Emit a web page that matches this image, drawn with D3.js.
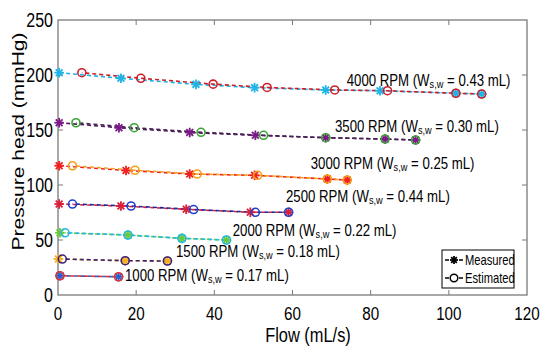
<!DOCTYPE html>
<html><head><meta charset="utf-8">
<script src="https://cdn.jsdelivr.net/npm/d3@7"></script>
<style>body{margin:0;background:#fff}svg{display:block}text{font-family:"Liberation Sans",Arial,sans-serif;fill:#000}</style>
</head><body><div id="chart"></div>
<script>
const rpmLabels = ["4000 RPM","3500 RPM","3000 RPM","2500 RPM","2000 RPM","1500 RPM","1000 RPM"];
const volumes = ["0.43","0.30","0.25","0.44","0.22","0.18","0.17"];
const measFlow = [
  [0.3,16.1,35.3,50.3,68.5,82.4,101.8,108.4],
  [0.3,15.6,33.7,50.5,68.5,83.7,91.5],
  [0.3,17.4,33.7,50.3,68.9,74],
  [0.3,16.1,32.8,49.2,59],
  [0.5,17.9,31.7,43.1],
  [0.1,17.2,28],
  [0.5,15.5]
];
const measHead = [
  [202.1,197,191.5,188.5,186.4,185.7,183.4,182.7],
  [156.6,152.1,147.7,145.2,143,141.8,140.9],
  [117.5,113.2,110,108.8,105.5,104.5],
  [82.7,80.9,77.9,75.2,75.2],
  [56.6,54.5,51.5,50],
  [32.7,31.2,30.9],
  [17.5,16.6]
];
const estFlow = [
  [6.1,21.2,39.7,53.5,70.8,84.3,101.8,108.4],
  [4.6,19.5,36.6,52.6,68.5,83.7,91.5],
  [3.7,19.7,35.6,51.1,68.9,74],
  [3.7,18.7,34.7,50.5,59],
  [1.8,17.9,31.7,43.1],
  [1.1,17.2,28],
  [0.5,15.5]
];
const estHead = [
  [202.1,197,191.7,188.7,186.4,185.7,183.4,182.7],
  [156.6,152.1,147.9,145.2,143,141.8,140.9],
  [117.5,113.4,110,108.8,105.5,104.5],
  [82.7,80.9,77.7,75.2,75.2],
  [56.6,54.5,51.5,50],
  [32.7,31.2,30.9],
  [17.5,16.6]
];
const xTicks = [0,20,40,60,80,100,120];
const yTicks = [0,50,100,150,200,250];
const legendLabels = ["Measured","Estimated"];

// styles
const measColor = ["#1db4e6","#7a1a86","#f02020","#d8203a","#6cc83a","#f5b020","#2a60d0"];
const estColor  = ["#cc1f2a","#3aa335","#f5a01a","#1f3fcf","#22b8e0","#3c1f7a","#e23030"];
const measLine  = ["#1db4e6","#4a2058","#f02020","#d8203a","#6cc83a","#f5b020","#2a60d0"];
const estLine   = ["#cc1f2a","#4a2058","#f5a01a","#1a2a9a","#22b8e0","#3c1f7a","#e23030"];
const labelPos = [[346.7,86],[335,132],[310.7,169],[286,202],[232.7,236],[176,257],[125,281]];

const W=546,H=347, L=58,R=527,T=20,B=295, SX=0.8;
const svg=d3.select("#chart").append("svg").attr("width",W).attr("height",H);
const x=d3.scaleLinear().domain([0,120]).range([L,R]);
const y=d3.scaleLinear().domain([0,250]).range([B,T]);

// frame and ticks
const axCol="#7a7a7a";
svg.append("rect").attr("x",L).attr("y",T).attr("width",R-L).attr("height",B-T)
  .attr("fill","none").attr("stroke",axCol).attr("stroke-width",1.3);
const tl=5;
xTicks.forEach(v=>{
  if(v>0&&v<120){
    svg.append("line").attr("x1",x(v)).attr("x2",x(v)).attr("y1",B).attr("y2",B-tl).attr("stroke",axCol);
    svg.append("line").attr("x1",x(v)).attr("x2",x(v)).attr("y1",T).attr("y2",T+tl).attr("stroke",axCol);
  }
  svg.append("text").attr("transform",`translate(${x(v)},319.5) scale(${SX},1)`)
    .attr("text-anchor","middle").attr("font-size",19).text(v);
});
yTicks.forEach(v=>{
  if(v>0&&v<250){
    svg.append("line").attr("x1",L).attr("x2",L+tl).attr("y1",y(v)).attr("y2",y(v)).attr("stroke",axCol);
    svg.append("line").attr("x1",R).attr("x2",R-tl).attr("y1",y(v)).attr("y2",y(v)).attr("stroke",axCol);
  }
  svg.append("text").attr("transform",`translate(53,${y(v)+7}) scale(${SX},1)`)
    .attr("text-anchor","end").attr("font-size",20).text(v);
});
svg.append("text").attr("transform",`translate(308,342) scale(${SX},1)`)
  .attr("text-anchor","middle").attr("font-size",20.5).text("Flow (mL/s)");
svg.append("text").attr("transform",`translate(24,141.5) scale(${SX},1) rotate(-90)`)
  .attr("text-anchor","middle").attr("font-size",21).text("Pressure head (mmHg)");

function star(g,cx,cy,r,col){
  for(let a=0;a<4;a++){
    const t=a*Math.PI/4;
    g.append("line").attr("x1",cx-r*Math.cos(t)).attr("y1",cy-r*Math.sin(t))
      .attr("x2",cx+r*Math.cos(t)).attr("y2",cy+r*Math.sin(t))
      .attr("stroke",col).attr("stroke-width",1.8);
  }
}
const line=d3.line().x(d=>x(d[0])).y(d=>y(d[1]));
const g=svg.append("g");
rpmLabels.forEach((lab,i)=>{
  const m=measFlow[i].map((f,j)=>[f,measHead[i][j]]);
  const e=estFlow[i].map((f,j)=>[f,estHead[i][j]]);
  g.append("path").attr("d",line(m)).attr("fill","none").attr("stroke",measLine[i])
    .attr("stroke-width",1.6).attr("stroke-dasharray","4,3");
  g.append("path").attr("d",line(e)).attr("fill","none").attr("stroke",estLine[i])
    .attr("stroke-width",1.6).attr("stroke-dasharray","4,3").attr("stroke-dashoffset",3.5);
  m.forEach(d=>star(g,x(d[0]),y(d[1]),4.8,measColor[i]));
  e.forEach(d=>g.append("circle").attr("cx",x(d[0])).attr("cy",y(d[1])).attr("r",4)
    .attr("fill","none").attr("stroke",estColor[i]).attr("stroke-width",1.6));
  const t=svg.append("text").attr("transform",`translate(${labelPos[i][0]},${labelPos[i][1]}) scale(${SX},1)`)
    .attr("font-size",16.5);
  t.append("tspan").text(lab+" (W");
  t.append("tspan").attr("font-size",11.5).attr("dy",2).text("s,w");
  t.append("tspan").attr("dy",-2).text(" = "+volumes[i]+" mL)");
});

// legend
const lg=svg.append("g");
lg.append("rect").attr("x",442).attr("y",250).attr("width",72).attr("height",38)
  .attr("fill","#fff").attr("stroke","#000").attr("stroke-width",1);
legendLabels.forEach((lab,k)=>{
  const cy=260+k*18;
  lg.append("line").attr("x1",445).attr("x2",463).attr("y1",cy).attr("y2",cy)
    .attr("stroke","#000").attr("stroke-width",1.5).attr("stroke-dasharray","4,3");
  if(k===0) star(lg,454,cy,4,"#000");
  else lg.append("circle").attr("cx",454).attr("cy",cy).attr("r",3.8).attr("fill","#fff").attr("stroke","#000").attr("stroke-width",1.5);
  lg.append("text").attr("transform",`translate(465,${cy+5}) scale(${SX},1)`)
    .attr("font-size",14).text(lab);
});
</script></body></html>
